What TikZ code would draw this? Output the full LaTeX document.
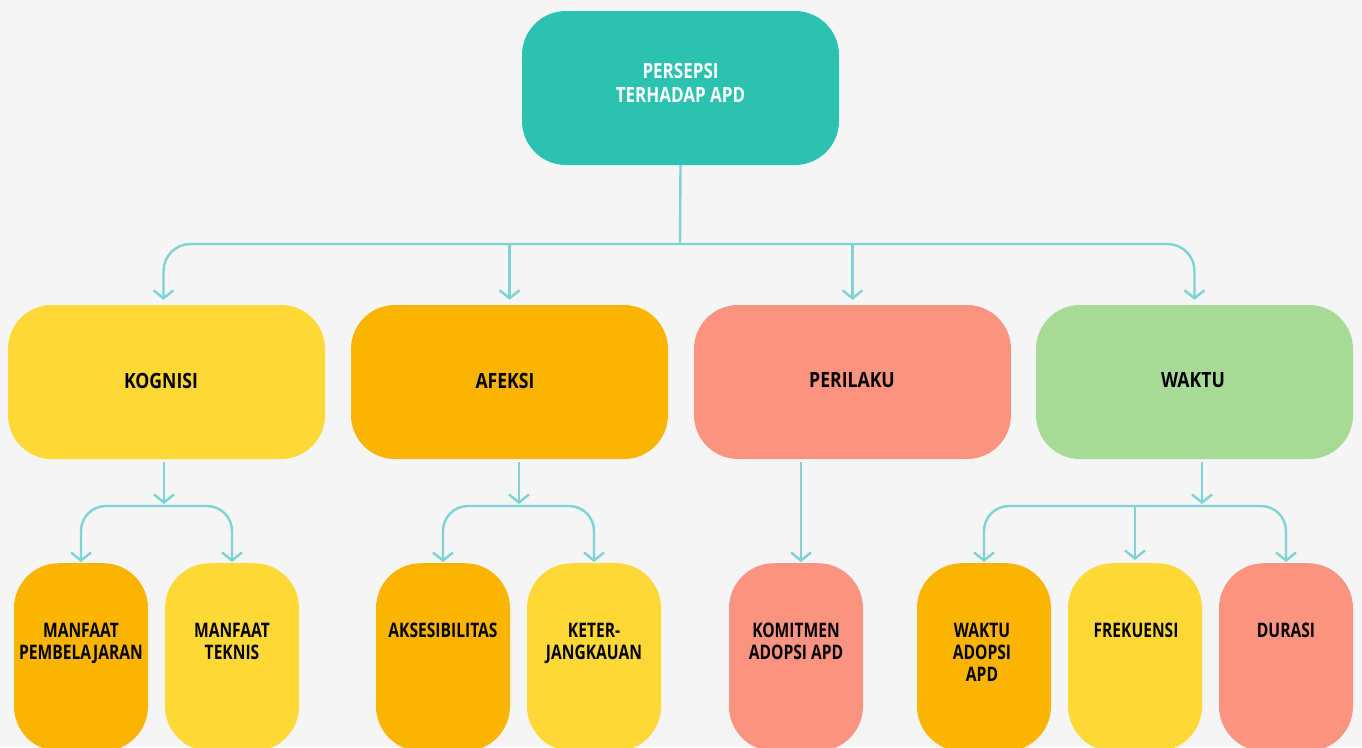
\documentclass[tikz,border=0pt]{standalone}
\usepackage{fontspec}
\setmainfont{Open Sans}[FakeStretch=0.78]
\newfontfamily\topfont{Open Sans}[FakeStretch=0.81]
\newfontfamily\midfont{Open Sans}[FakeStretch=0.84]
\usetikzlibrary{arrows.meta,positioning}
\definecolor{bgc}{HTML}{F5F5F5}
\definecolor{tealc}{HTML}{2BC2AF}
\definecolor{yelc}{HTML}{FDD837}
\definecolor{orac}{HTML}{FBB401}
\definecolor{salc}{HTML}{FA9481}
\definecolor{grnc}{HTML}{A7DA97}
\definecolor{linkc}{HTML}{7ED3D3}
\tikzset{
  box/.style={rounded corners=44pt, minimum width=317pt, minimum height=154pt,
    inner sep=0pt},
  boxtext/.style={inner sep=0pt, align=center,
    font=\midfont\fontsize{21}{24}\selectfont\bfseries},
  leaf/.style={rounded corners=45pt, minimum width=134pt, minimum height=188pt,
    inner sep=0pt, anchor=north},
  leaftext/.style={anchor=north, inner sep=0pt, align=center,
    font=\fontsize{20}{22}\selectfont\bfseries},
  link/.style={draw=linkc, line width=2.4pt},
  tip/.style={-{Straight Barb[length=8pt,width=20pt]}},
}
\begin{document}
\begin{tikzpicture}[x=1pt,y=-1pt]
\fill[bgc] (0,0) rectangle (1362,747);
\useasboundingbox (0,0) rectangle (1362,747);
\clip (0,0) rectangle (1362,747);

% top
\node[box, fill=tealc] (top) at (680.5,88) {};
\node[boxtext, anchor=north, text=white, font=\topfont\fontsize{21}{24}\selectfont\bfseries]
  (toptx) at (680.5,63) {PERSEPSI\\TERHADAP APD};

% second row
\node[box, fill=yelc] (kog) at (166.5,382) {};
\node[box, fill=orac] (afe) at (509.5,382) {};
\node[box, fill=salc] (per) at (852.5,382) {};
\node[box, fill=grnc] (wak) at (1194.5,382) {};
\node[boxtext] (kogtx) at (161,380.5) {KOGNISI};
\node[boxtext] (afetx) at (505,380.5) {AFEKSI};
\node[boxtext] (pertx) at (852,380.5) {PERILAKU};
\node[boxtext] (waktx) at (1193,380.5) {WAKTU};

% third row
\node[leaf, fill=orac] (mp) at (81,563) {};
\node[leaf, fill=yelc] (mt) at (232,563) {};
\node[leaf, fill=orac] (aks) at (443,563) {};
\node[leaf, fill=yelc] (ket) at (594,563) {};
\node[leaf, fill=salc] (kom) at (796,563) {};
\node[leaf, fill=orac] (wa) at (984,563) {};
\node[leaf, fill=yelc] (fr) at (1135,563) {};
\node[leaf, fill=salc] (du) at (1286,563) {};

\node[leaftext] (mptx) at (81,623) {MANFAAT\\PEMBELAJARAN};
\node[leaftext] (mttx) at (232,623) {MANFAAT\\TEKNIS};
\node[leaftext] (akstx) at (443,623) {AKSESIBILITAS};
\node[leaftext] (kettx) at (594,623) {KETER-\\JANGKAUAN};
\node[leaftext] (komtx) at (796,623) {KOMITMEN\\ADOPSI APD};
\node[leaftext] (watx) at (982,623) {WAKTU\\ADOPSI\\APD};
\node[leaftext] (frtx) at (1136,623) {FREKUENSI};
\node[leaftext] (dutx) at (1286,623) {DURASI};

% connectors, top level
\coordinate (hub) at (680,244);
\coordinate (kogIn) at ([xshift=-3pt]kog.north);
\draw[link] (top.south) -- (hub);
\draw[link, tip, rounded corners=27pt, shorten >=5pt] (hub) -| (kogIn);
\draw[link, tip, rounded corners=27pt, shorten >=5pt] (hub) -| (wak.north);
\draw[link, tip, shorten >=5pt] (afe.north |- hub) -- (afe.north);
\draw[link, tip, shorten >=5pt] (per.north |- hub) -- (per.north);

% connectors, second level
\coordinate (kogHub) at (164,506);
\coordinate (afeHub) at (519,506);
\coordinate (wakHub) at (1202,506);
\coordinate (perOut) at ([xshift=5pt]kom.north);

\draw[link, tip, shorten <=3pt, shorten >=2pt] (kogHub |- kog.south) -- (kogHub);
\draw[link, tip, rounded corners=25pt, shorten >=1pt] (kogHub) -| (mp.north);
\draw[link, tip, rounded corners=25pt, shorten >=1pt] (kogHub) -| (mt.north);

\draw[link, tip, shorten <=3pt, shorten >=2pt] (afeHub |- afe.south) -- (afeHub);
\draw[link, tip, rounded corners=25pt, shorten >=1pt] (afeHub) -| (aks.north);
\draw[link, tip, rounded corners=25pt, shorten >=1pt] (afeHub) -| (ket.north);

\draw[link, tip, shorten <=3pt, shorten >=1pt] (perOut |- per.south) -- (perOut);

\draw[link, tip, shorten <=3pt, shorten >=2pt] (wakHub |- wak.south) -- (wakHub);
\draw[link, tip, rounded corners=25pt, shorten >=1pt] (wakHub) -| (wa.north);
\draw[link, tip, rounded corners=25pt, shorten >=1pt] (wakHub) -| (du.north);
\draw[link, tip, shorten >=3pt] (fr.north |- wakHub) -- (fr.north);
\end{tikzpicture}
\end{document}
